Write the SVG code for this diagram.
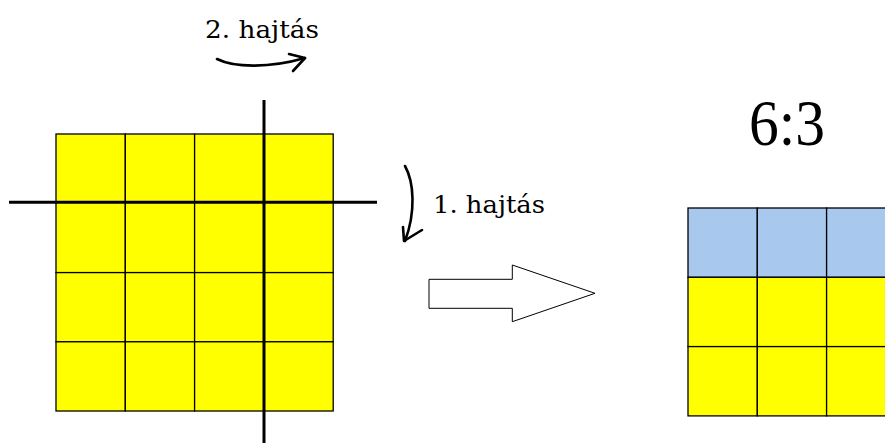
<svg xmlns="http://www.w3.org/2000/svg" width="885" height="443" viewBox="0 0 885 443">
<style>
.y{fill:#ffff00;stroke:#000;stroke-width:1.3}
.b{fill:#a8c8ee;stroke:#000;stroke-width:1.3}
.fold{stroke:#000;stroke-width:3;fill:none}
.hand{stroke:#000;stroke-width:2.6;fill:none;stroke-linecap:round;stroke-linejoin:round}
.lbl{font-family:"DejaVu Serif","Liberation Serif",serif;font-size:25px;fill:#000}
</style>
<rect width="885" height="443" fill="#fff"/>
<g id="grid-left">
<rect class="y" x="56" y="134" width="69.3" height="68.3"/>
<rect class="y" x="125.3" y="134" width="69.3" height="68.3"/>
<rect class="y" x="194.6" y="134" width="69.3" height="68.3"/>
<rect class="y" x="263.9" y="134" width="69.3" height="68.3"/>
<rect class="y" x="56" y="202.3" width="69.3" height="70.3"/>
<rect class="y" x="125.3" y="202.3" width="69.3" height="70.3"/>
<rect class="y" x="194.6" y="202.3" width="69.3" height="70.3"/>
<rect class="y" x="263.9" y="202.3" width="69.3" height="70.3"/>
<rect class="y" x="56" y="272.6" width="69.3" height="69.2"/>
<rect class="y" x="125.3" y="272.6" width="69.3" height="69.2"/>
<rect class="y" x="194.6" y="272.6" width="69.3" height="69.2"/>
<rect class="y" x="263.9" y="272.6" width="69.3" height="69.2"/>
<rect class="y" x="56" y="341.8" width="69.3" height="69.2"/>
<rect class="y" x="125.3" y="341.8" width="69.3" height="69.2"/>
<rect class="y" x="194.6" y="341.8" width="69.3" height="69.2"/>
<rect class="y" x="263.9" y="341.8" width="69.3" height="69.2"/>
</g>
<g id="fold-lines">
<line class="fold" x1="9" y1="202.3" x2="377" y2="202.3"/>
<line class="fold" x1="264" y1="100" x2="264" y2="443"/>
</g>
<g id="label-2">
<text class="lbl" x="205" y="38" textLength="114" lengthAdjust="spacingAndGlyphs">2. hajtás</text>
</g>
<g id="label-1">
<text class="lbl" x="433" y="213" textLength="112" lengthAdjust="spacingAndGlyphs">1. hajtás</text>
</g>
<g id="connectors">
<path class="hand" d="M217,59 C235,68 270,68 305,58"/>
<path class="hand" d="M289,54 L305,58 L293,71"/>
<path class="hand" d="M405,166 C414,182 416,212 405,241"/>
<path class="hand" d="M403,227 L404,241 L422,230"/>
</g>
<g id="block-arrow">
<polygon points="429,279.3 512.3,279.3 512.3,265 595,293.3 512.3,321.7 512.3,308.3 429,308.3" fill="#fff" stroke="#000" stroke-width="1"/>
</g>
<g id="ratio">
<text x="749" y="145" font-family="Liberation Serif, serif" font-size="66" textLength="76" lengthAdjust="spacingAndGlyphs" fill="#000">6:3</text>
</g>
<g id="grid-right">
<rect class="b" x="688" y="208" width="69.3" height="69.3"/>
<rect class="b" x="757.3" y="208" width="69.3" height="69.3"/>
<rect class="b" x="826.6" y="208" width="69.3" height="69.3"/>
<rect class="y" x="688" y="277.3" width="69.3" height="69.3"/>
<rect class="y" x="757.3" y="277.3" width="69.3" height="69.3"/>
<rect class="y" x="826.6" y="277.3" width="69.3" height="69.3"/>
<rect class="y" x="688" y="346.6" width="69.3" height="69.3"/>
<rect class="y" x="757.3" y="346.6" width="69.3" height="69.3"/>
<rect class="y" x="826.6" y="346.6" width="69.3" height="69.3"/>
</g>
</svg>
